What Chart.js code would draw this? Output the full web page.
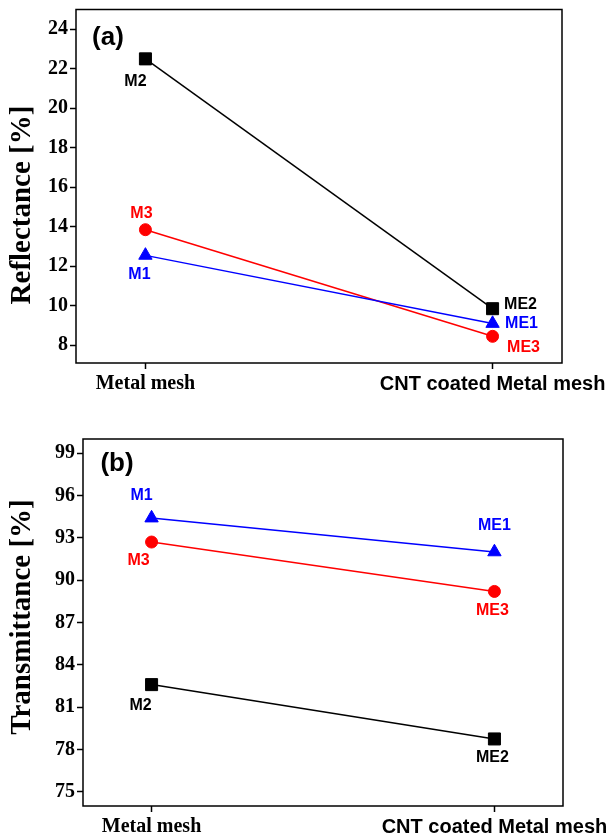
<!DOCTYPE html>
<html>
<head>
<meta charset="utf-8">
<script src="https://cdn.jsdelivr.net/npm/chart.js@4"></script>
<style>
  body { margin: 0; background: #fff; }
  #wrap { position: relative; width: 608px; height: 836px; }
  canvas { position: absolute; left: 0; }
</style>
</head>
<body>
<div id="wrap">
  <canvas id="chartA" width="608" height="400" style="top:0"></canvas>
  <canvas id="chartB" width="608" height="436" style="top:400px"></canvas>
</div>
<script>
var categories = ['Metal mesh', 'CNT coated Metal mesh'];

// (a) reflectance [%]
var reflM2 = [22.5, 9.85];
var reflM3 = [13.85, 8.45];
var reflM1 = [12.55, 9.1];
var reflTicks = [8, 10, 12, 14, 16, 18, 20, 22, 24];

// (b) transmittance [%]
var transM1 = [94.4, 92.0];
var transM3 = [92.7, 89.2];
var transM2 = [82.6, 78.75];
var transTicks = [75, 78, 81, 84, 87, 90, 93, 96, 99];

var SERIF = '"Liberation Serif", "Times New Roman", serif';
var SANS = '"Liberation Sans", Arial, sans-serif';

function toXY(values) {
    return values.map(function (v, i) { return { x: i, y: v }; });
}

function series(values, color, style, radius, names, offsets) {
    return {
        data: toXY(values),
        borderColor: color,
        backgroundColor: color,
        borderWidth: 1.5,
        pointStyle: style,
        pointRadius: radius,
        pointHoverRadius: radius,
        pointBorderWidth: 1,
        names: names,
        offsets: offsets
    };
}

// frame, panel letter, axis title and point names
var textPlugin = {
    id: 'panelText',
    afterDatasetsDraw: function (chart, args, opts) {
        var ctx = chart.ctx;
        var area = chart.chartArea;
        ctx.save();
        ctx.strokeStyle = '#000';
        ctx.lineWidth = 1.5;
        ctx.strokeRect(area.left, area.top, area.right - area.left, area.bottom - area.top);

        ctx.fillStyle = '#000';
        ctx.textAlign = 'center';
        ctx.textBaseline = 'middle';
        ctx.font = 'bold 26px ' + SANS;
        ctx.fillText(opts.panel, area.left + opts.panelDx, area.top + opts.panelDy);

        ctx.save();
        ctx.translate(opts.titleX, opts.titleY);
        ctx.rotate(-Math.PI / 2);
        ctx.font = 'bold 29px ' + SERIF;
        ctx.fillText(opts.title, 0, 0);
        ctx.restore();

        ctx.font = 'bold 16px ' + SANS;
        chart.data.datasets.forEach(function (ds, i) {
            var meta = chart.getDatasetMeta(i);
            ctx.fillStyle = ds.borderColor;
            meta.data.forEach(function (pt, j) {
                ctx.fillText(ds.names[j], pt.x + ds.offsets[j][0], pt.y + ds.offsets[j][1]);
            });
        });
        ctx.restore();
    }
};

function makeOptions(yMin, yMax, yTicks, yWidth, xHeight, pad, plug) {
    return {
        responsive: false,
        animation: false,
        layout: { padding: pad },
        plugins: {
            legend: { display: false },
            tooltip: { enabled: false },
            panelText: plug
        },
        scales: {
            x: {
                type: 'linear',
                min: -0.2,
                max: 1.2,
                afterBuildTicks: function (scale) {
                    scale.ticks = categories.map(function (c, i) { return { value: i }; });
                },
                afterFit: function (scale) {
                    scale.height = xHeight;
                    scale.paddingLeft = 0;
                    scale.paddingRight = 0;
                },
                border: { display: false },
                grid: { drawOnChartArea: false, tickLength: 6, tickColor: '#000', tickWidth: 1.5 },
                ticks: {
                    color: '#000',
                    maxRotation: 0,
                    autoSkip: false,
                    padding: 3,
                    callback: function (v) { return categories[v]; },
                    font: function (c) {
                        return c.index === 0
                            ? { family: SERIF, size: 20, weight: 'bold' }
                            : { family: SANS, size: 20, weight: 'bold' };
                    }
                }
            },
            y: {
                min: yMin,
                max: yMax,
                afterBuildTicks: function (scale) {
                    scale.ticks = yTicks.map(function (v) { return { value: v }; });
                },
                afterFit: function (scale) {
                    scale.width = yWidth;
                    scale.paddingTop = 0;
                    scale.paddingBottom = 0;
                },
                border: { display: false },
                grid: { drawOnChartArea: false, tickLength: 6, tickColor: '#000', tickWidth: 1.5 },
                ticks: {
                    color: '#000',
                    padding: 2,
                    font: { family: SERIF, size: 20, weight: 'bold' }
                }
            }
        }
    };
}

new Chart(document.getElementById('chartA'), {
    type: 'line',
    data: {
        datasets: [
            series(reflM1, '#0000ff', 'triangle', 7.7, ['M1', 'ME1'], [[-6, 19], [29, 0]]),
            series(reflM3, '#ff0000', 'circle', 6, ['M3', 'ME3'], [[-4, -16], [31, 11]]),
            series(reflM2, '#000000', 'rect', 8.5, ['M2', 'ME2'], [[-10, 23], [28, -4]])
        ]
    },
    options: makeOptions(7.1, 25, reflTicks, 76, 37,
        { top: 8, right: 46, left: 0, bottom: 0 },
        { panel: '(a)', panelDx: 32, panelDy: 28, title: 'Reflectance [%]', titleX: 23, titleY: 205 }),
    plugins: [textPlugin]
});

new Chart(document.getElementById('chartB'), {
    type: 'line',
    data: {
        datasets: [
            series(transM1, '#0000ff', 'triangle', 7.7, ['M1', 'ME1'], [[-10, -22], [0, -26]]),
            series(transM3, '#ff0000', 'circle', 6, ['M3', 'ME3'], [[-13, 19], [-2, 19]]),
            series(transM2, '#000000', 'rect', 8.5, ['M2', 'ME2'], [[-11, 21], [-2, 19]])
        ]
    },
    options: makeOptions(74, 100, transTicks, 83, 30,
        { top: 39, right: 45, left: 0, bottom: 0 },
        { panel: '(b)', panelDx: 34, panelDy: 25, title: 'Transmittance [%]', titleX: 23, titleY: 217 }),
    plugins: [textPlugin]
});
</script>
</body>
</html>
